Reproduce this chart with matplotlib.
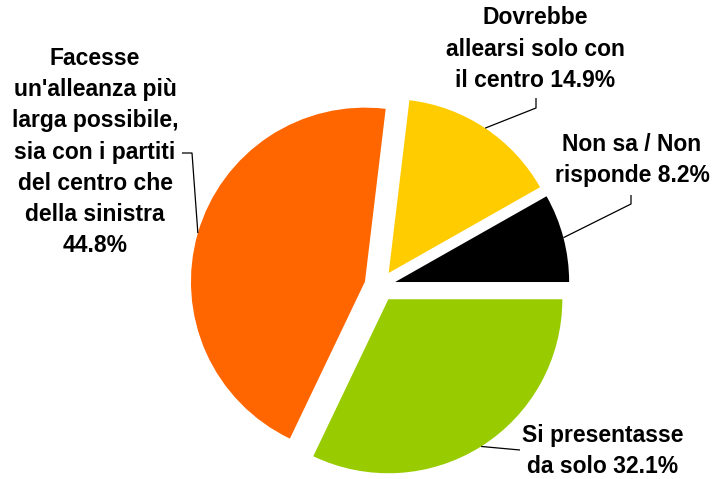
import numpy as np
import matplotlib
matplotlib.use("Agg")
import matplotlib.pyplot as plt

# dati (ordine antiorario a partire dalle ore 3)
categorie = ["Non sa / Non\nrisponde", "Dovrebbe\nallearsi solo con\nil centro",
             "Facesse\nun'alleanza più\nlarga possibile,\nsia con i partiti\ndel centro che\ndella sinistra",
             "Si presentasse\nda solo"]
valori = [8.2, 14.9, 44.8, 32.1]
colori = ["#000000", "#FFCC00", "#FF6600", "#99CC00"]
a_capo = [False, False, True, False]  # percentuale su riga a parte

plt.rcParams['font.family'] = ['Liberation Sans', 'DejaVu Sans']

W, H = 713, 479
fig = plt.figure(figsize=(W / 100, H / 100), dpi=100)
ax = fig.add_axes([0, 0, 1, 1])

# scala: 1 unità = raggio della torta in pixel
R = 174.0
cx, cy = 380.0, 286.0


def px(x, y):
    return (x - cx) / R, (cy - y) / R


wedges, _ = ax.pie(valori, colors=colori, startangle=0, counterclock=True,
                   explode=[0.09] * 4, radius=1.0,
                   wedgeprops=dict(linewidth=0))
ax.set_xlim(-cx / R, (W - cx) / R)
ax.set_ylim(-(H - cy) / R, cy / R)
ax.set_aspect('auto')
ax.axis('off')

# posizione delle etichette e gomito delle linee guida (in pixel)
testo_pos = [(632, 160), (535, 49), (95, 152), (603, 451)]
gomiti = [[(631, 195), (631, 204)],
          [(536, 98), (536, 108)],
          [(182, 153), (192, 153)],
          [(520, 450)]]

for w, cat, v, nl, tp, gm in zip(wedges, categorie, valori, a_capo, testo_pos, gomiti):
    a = np.deg2rad((w.theta1 + w.theta2) / 2)
    ex = w.center[0] + w.r * np.cos(a)
    ey = w.center[1] + w.r * np.sin(a)
    pts = [px(*p) for p in gm] + [(ex, ey)]
    xs, ys = zip(*pts)
    ax.plot(xs, ys, color='black', lw=0.9, solid_capstyle='butt')
    tx, ty = px(*tp)
    sep = "\n" if nl else " "
    ax.text(tx, ty, f"{cat}{sep}{v:.1f}%", ha='center', va='center',
            multialignment='center', fontsize=16.5, fontweight='bold',
            linespacing=1.45, color='black')

fig.savefig("out.png", dpi=100)
